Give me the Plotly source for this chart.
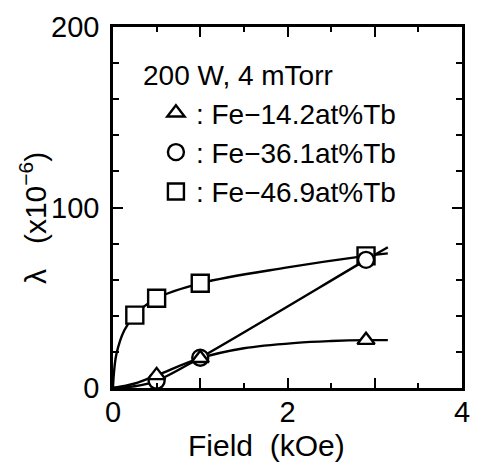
import plotly.graph_objects as go

# ---- data ----
field_sq = [0.25, 0.5, 1.0, 2.9]
lam_sq = [40.4, 49.7, 58.0, 73.2]
field_ci = [0.5, 1.0, 2.9]
lam_ci = [4.0, 16.8, 71.0]
field_tr = [0.5, 1.0, 2.9]
lam_tr = [7.0, 16.5, 26.5]

# hand-drawn guide curves
curve_sq_x = [0, 0.01, 0.04, 0.13, 0.25, 0.5, 1.0, 2.0, 2.9, 3.15]
curve_sq_y = [0, 8, 19, 32, 40.4, 49.7, 58.0, 66.8, 73.2, 74.6]
curve_ci_x = [0, 0.25, 0.5, 1.0, 2.9, 3.15]
curve_ci_y = [0, 1.0, 4.0, 16.8, 71.0, 78.0]
curve_tr_x = [0, 0.25, 0.5, 1.0, 1.5, 2.1, 2.5, 2.9, 3.15]
curve_tr_y = [0, 2.5, 7.0, 16.5, 22.0, 25.0, 26.0, 26.5, 26.5]

names = [": Fe\u221214.2at%Tb", ": Fe\u221236.1at%Tb", ": Fe\u221246.9at%Tb"]
legend_title = "200 W, 4 mTorr"
x_tick_vals = [0, 1, 2, 3, 4]
x_tick_text = ["0", "", "2", "", "4"]
y_tick_vals = [0, 100, 200]
y_tick_text = ["0", "100", "200"]

FONT = "Liberation Sans, Arial, sans-serif"
fig = go.Figure()

line_style = dict(color="black", width=2.4, shape="spline")
for cx, cy in [(curve_sq_x, curve_sq_y), (curve_ci_x, curve_ci_y), (curve_tr_x, curve_tr_y)]:
    fig.add_trace(go.Scatter(x=cx, y=cy, mode="lines", line=line_style,
                             showlegend=False, hoverinfo="skip"))

mk = dict(color="white", line=dict(color="black", width=2.4))
fig.add_trace(go.Scatter(x=field_sq, y=lam_sq, mode="markers", name=names[2],
                         marker=dict(symbol="square", size=17, **mk), legendrank=3))
fig.add_trace(go.Scatter(x=field_ci, y=lam_ci, mode="markers", name=names[1],
                         marker=dict(symbol="circle", size=16, **mk), legendrank=2))
fig.add_trace(go.Scatter(x=field_tr, y=lam_tr, mode="markers", name=names[0],
                         marker=dict(symbol="triangle-up", size=15, **mk), legendrank=1))

axis_common = dict(showline=True, linecolor="black", linewidth=2.5, mirror="ticks",
                   ticks="inside", tickcolor="black", tickwidth=2, ticklen=10,
                   showgrid=False, zeroline=False,
                   tickfont=dict(family=FONT, size=29, color="black"))

fig.update_xaxes(range=[0, 4], tickmode="array", tickvals=x_tick_vals, ticktext=x_tick_text,
                 ticklabelstandoff=-4,
                 minor=dict(dtick=0.5, ticks="inside", ticklen=5, tickwidth=2, tickcolor="black"),
                 **axis_common)
fig.update_yaxes(range=[0, 200], tickmode="array", tickvals=y_tick_vals, ticktext=y_tick_text,
                 ticklabelstandoff=5,
                 minor=dict(dtick=20, ticks="inside", ticklen=6, tickwidth=2, tickcolor="black"),
                 **axis_common)

fig.add_annotation(text="Field  (kOe)", xref="paper", yref="paper", x=0.440, y=-0.158,
                   xanchor="center", yanchor="middle", showarrow=False,
                   font=dict(family=FONT, size=30, color="black"))
fig.add_annotation(text="\u03bb   (x10<sup>\u22126</sup>)", xref="paper", yref="paper",
                   x=-0.227, y=0.47, textangle=-90, xanchor="center", yanchor="middle",
                   showarrow=False, font=dict(family=FONT, size=30, color="black"))
fig.add_annotation(text=legend_title, xref="paper", yref="paper", x=0.081, y=0.867,
                   xanchor="left", yanchor="middle", showarrow=False,
                   font=dict(family=FONT, size=28, color="black"))

fig.update_layout(
    width=477, height=465,
    margin=dict(l=113, r=7, t=27, b=77),
    paper_bgcolor="white", plot_bgcolor="white",
    font=dict(family=FONT, size=28, color="black"),
    legend=dict(x=0.123, y=0.831, xanchor="left", yanchor="top",
                bgcolor="rgba(0,0,0,0)", tracegroupgap=0,
                font=dict(family=FONT, size=28), itemwidth=30),
)

fig.write_html("out.html", config={"displayModeBar": False},
               post_script="document.body.style.margin='0px';document.body.style.overflow='hidden';")
